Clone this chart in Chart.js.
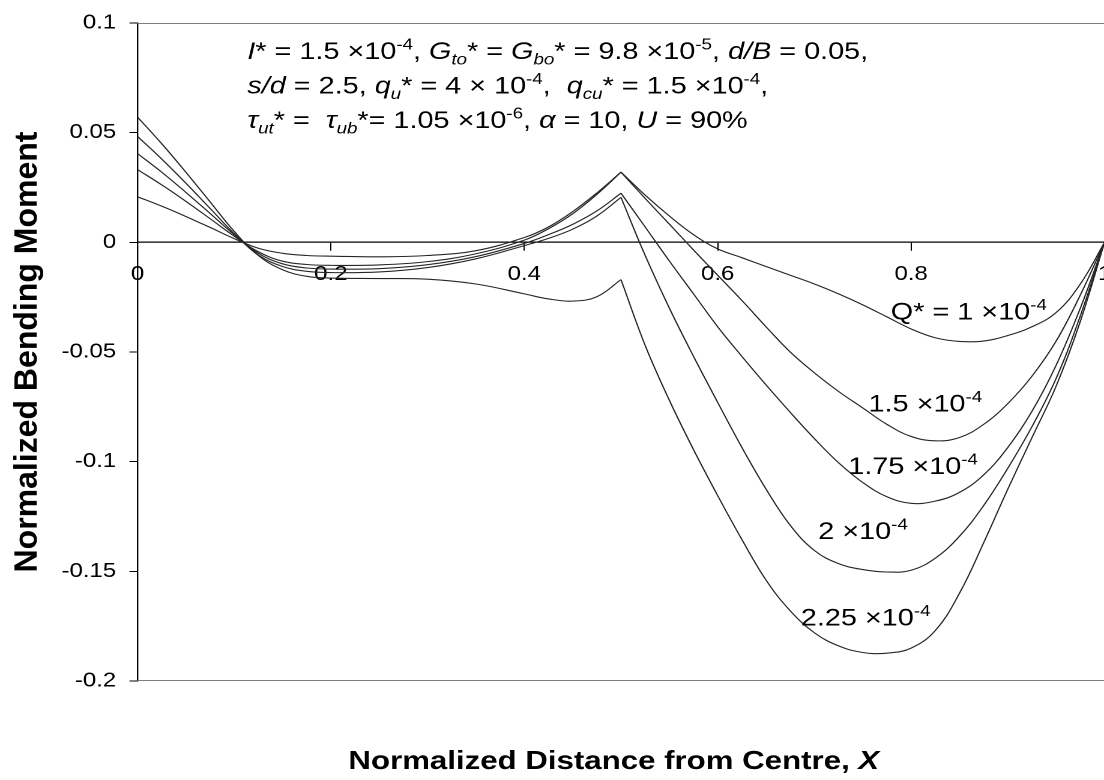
<!DOCTYPE html>
<html>
<head>
<meta charset="utf-8">
<script src="https://cdn.jsdelivr.net/npm/chart.js@4.4.1/dist/chart.umd.min.js"></script>
<style>
  html, body { margin: 0; padding: 0; background: #fff; overflow: hidden; }
  /* the source figure is stretched sideways, so the whole chart is drawn narrow and stretched */
  #wrap { position: absolute; left: 0; top: 0; width: 937.5px; height: 780px; transform: scaleX(1.2); transform-origin: 0 0; }
</style>
</head>
<body>
<div id="wrap"><canvas id="chart"></canvas></div>
<script>
var FONT = '"Liberation Sans", Arial, sans-serif';
var STRETCH = 1.2;

// normalized distance X
var xValues = [0, 0.025, 0.05, 0.075, 0.1, 0.125, 0.15, 0.175, 0.2, 0.25, 0.3, 0.35, 0.4, 0.425, 0.45, 0.475, 0.5,
               0.525, 0.55, 0.575, 0.6, 0.625, 0.65, 0.675, 0.7, 0.725, 0.75, 0.775, 0.8, 0.825, 0.85, 0.875, 0.9, 0.925, 0.95, 0.975, 1];
var peakX = 0.5; // cusp under the column load, curves are smoothed on each side of it

// normalized bending moment for each Q*
var momentQ100 = [0.0208, 0.0165, 0.0118, 0.0068, 0.0017, -0.0027, -0.0050, -0.0060, -0.0063, -0.0066, -0.0060, -0.0038, 0.0022, 0.0070, 0.0140, 0.0225, 0.0320,
                  0.0215, 0.0120, 0.0035, -0.0030, -0.0070, -0.0110, -0.0150, -0.0190, -0.0235, -0.0285, -0.0340, -0.0395, -0.0435, -0.0452, -0.0450, -0.0425, -0.0385, -0.0320, -0.0190, 0];
var momentQ150 = [0.0332, 0.0262, 0.0187, 0.0108, 0.0028, -0.0043, -0.0086, -0.0101, -0.0105, -0.0103, -0.0088, -0.0052, 0.0010, 0.0062, 0.0130, 0.0218, 0.0320,
                  0.0200, 0.0083, -0.0035, -0.0150, -0.0265, -0.0385, -0.0500, -0.0595, -0.0680, -0.0755, -0.0830, -0.0885, -0.0905, -0.0890, -0.0830, -0.0735, -0.0610, -0.0450, -0.0240, 0];
var momentQ175 = [0.0405, 0.0320, 0.0228, 0.0132, 0.0035, -0.0050, -0.0098, -0.0117, -0.0122, -0.0120, -0.0102, -0.0065, -0.0005, 0.0035, 0.0082, 0.0143, 0.0224,
                  0.0070, -0.0085, -0.0235, -0.0385, -0.0520, -0.0650, -0.0775, -0.0895, -0.1005, -0.1095, -0.1160, -0.1190, -0.1180, -0.1140, -0.1060, -0.0935, -0.0770, -0.0560, -0.0300, 0];
var momentQ200 = [0.0483, 0.0380, 0.0270, 0.0155, 0.0040, -0.0058, -0.0110, -0.0132, -0.0138, -0.0135, -0.0115, -0.0075, -0.0015, 0.0018, 0.0060, 0.0120, 0.0205,
                  -0.0060, -0.0300, -0.0520, -0.0730, -0.0935, -0.1125, -0.1290, -0.1405, -0.1465, -0.1492, -0.1503, -0.1495, -0.1440, -0.1340, -0.1200, -0.1030, -0.0840, -0.0620, -0.0335, 0];
var momentQ225 = [0.0571, 0.0450, 0.0320, 0.0185, 0.0050, -0.0060, -0.0125, -0.0155, -0.0163, -0.0165, -0.0168, -0.0190, -0.0235, -0.0258, -0.0268, -0.0248, -0.0170,
                  -0.0470, -0.0720, -0.0945, -0.1155, -0.1355, -0.1540, -0.1680, -0.1780, -0.1840, -0.1870, -0.1873, -0.1850, -0.1770, -0.1600, -0.1370, -0.1125, -0.0890, -0.0655, -0.0360, 0];

var seriesList = [momentQ100, momentQ150, momentQ175, momentQ200, momentQ225];

// curve labels (text, then where they sit in data units)
var labelText = ['Q* = 1 \u00d710', '1.5 \u00d710', '1.75 \u00d710', '2 \u00d710', '2.25 \u00d710'];
var labelX = [0.779, 0.756, 0.735, 0.704, 0.686];
var labelY = [-0.0314, -0.0732, -0.1018, -0.1314, -0.1709];

var xTicks = [0, 0.2, 0.4, 0.6, 0.8, 1];
var yTicks = [-0.2, -0.15, -0.1, -0.05, 0, 0.05, 0.1];

// parameter box, [text, flags]: i = italic, b = subscript, p = superscript, B = bold
var noteLines = [
  [['I', 'i'], ['* = 1.5 \u00d710'], ['-4', 'p'], [', '], ['G', 'i'], ['to', 'ib'], ['* = '], ['G', 'i'], ['bo', 'ib'],
   ['* = 9.8 \u00d710'], ['-5', 'p'], [', '], ['d/B', 'i'], [' = 0.05,']],
  [['s/d', 'i'], [' = 2.5, '], ['q', 'i'], ['u', 'ib'], ['* = 4 \u00d7 10'], ['-4', 'p'], [',  '], ['q', 'i'], ['cu', 'ib'],
   ['* = 1.5 \u00d710'], ['-4', 'p'], [',']],
  [['\u03c4', 'i'], ['ut', 'ib'], ['* =  '], ['\u03c4', 'i'], ['ub', 'ib'], ['*= 1.05 \u00d710'], ['-6', 'p'], [', '],
   ['\u03b1', 'i'], [' = 10, '], ['U', 'i'], [' = 90%']]
];

function pts(list, from, to) {
  var out = [];
  for (var i = from; i <= to; i++) out.push({x: xValues[i], y: list[i]});
  return out;
}

var cut = xValues.indexOf(peakX);
var datasets = [];
seriesList.forEach(function(list, k) {
  [[0, cut], [cut, xValues.length - 1]].forEach(function(r) {
    datasets.push({
      label: labelText[k],
      data: pts(list, r[0], r[1]),
      borderColor: '#262626',
      borderWidth: 1.1,
      pointRadius: 0,
      fill: false,
      tension: 0.4
    });
  });
});

function drawRich(ctx, x, y, parts, size, measureOnly) {
  var x0 = x;
  parts.forEach(function(p) {
    var f = p[1] || '';
    var small = f.indexOf('b') >= 0 || f.indexOf('p') >= 0;
    var s = small ? size * 0.65 : size;
    ctx.font = (f.indexOf('i') >= 0 ? 'italic ' : '') + (f.indexOf('B') >= 0 ? 'bold ' : '') + s + 'px ' + FONT;
    var dy = f.indexOf('p') >= 0 ? -size * 0.4 : (f.indexOf('b') >= 0 ? size * 0.22 : 0);
    if (!measureOnly) ctx.fillText(p[0], x, y + dy);
    x += ctx.measureText(p[0]).width;
  });
  return x - x0;
}

var textPlugin = {
  id: 'texts',
  beforeDatasetsDraw: function(chart) {
    var ctx = chart.ctx, a = chart.chartArea;
    ctx.save();
    ctx.strokeStyle = '#808080';
    ctx.lineWidth = 1;
    ctx.beginPath();
    ctx.moveTo(a.left, a.top + 0.5); ctx.lineTo(a.right, a.top + 0.5);
    ctx.moveTo(a.left, a.bottom - 0.5); ctx.lineTo(a.right, a.bottom - 0.5);
    ctx.stroke();
    ctx.restore();
  },
  afterDraw: function(chart) {
    var ctx = chart.ctx, a = chart.chartArea;
    var xs = chart.scales.x, ys = chart.scales.y;
    ctx.save();
    ctx.fillStyle = '#000';
    ctx.textBaseline = 'alphabetic';
    ctx.textAlign = 'left';

    noteLines.forEach(function(line, i) {
      drawRich(ctx, 206, 59 + i * 34.5, line, 24);
    });

    labelText.forEach(function(t, i) {
      drawRich(ctx, xs.getPixelForValue(labelX[i]), ys.getPixelForValue(labelY[i]) + 8.5, [[t], ['-4', 'p']], 24);
    });

    // x title
    var xt = [['Normalized Distance from Centre, ', 'B'], ['X', 'Bi']];
    var w = drawRich(ctx, 0, 0, xt, 26, true);
    drawRich(ctx, (a.left + a.right) / 2 - w / 2 - 6, 769, xt, 26);

    // y title, drawn without the sideways stretch
    ctx.translate(30.4, (a.top + a.bottom) / 2);
    ctx.scale(1 / STRETCH, 1);
    ctx.rotate(-Math.PI / 2);
    ctx.textAlign = 'center';
    ctx.font = 'bold 32px ' + FONT;
    ctx.fillText('Normalized Bending Moment', 0, 0);
    ctx.restore();
  }
};

new Chart(document.getElementById('chart'), {
  type: 'line',
  data: {datasets: datasets},
  plugins: [textPlugin],
  options: {
    responsive: true,
    maintainAspectRatio: false,
    animation: false,
    devicePixelRatio: 2,
    layout: {padding: {left: 0, right: 10, top: 21, bottom: 99}},
    plugins: {legend: {display: false}, tooltip: {enabled: false}},
    scales: {
      x: {
        type: 'linear',
        min: 0, max: 1,
        position: {y: 0},
        afterBuildTicks: function(s) { s.ticks = xTicks.map(function(v) { return {value: v}; }); },
        grid: {drawOnChartArea: false, drawTicks: true, tickLength: 8, color: '#000'},
        border: {color: '#000', width: 1.2},
        ticks: {padding: 12, color: '#000', maxRotation: 0, autoSkip: false, font: {family: FONT, size: 20},
                callback: function(v) { return String(Number(v.toFixed(2))); }}
      },
      y: {
        type: 'linear',
        min: -0.2, max: 0.1,
        afterBuildTicks: function(s) { s.ticks = yTicks.map(function(v) { return {value: v}; }); },
        afterFit: function(s) { s.width = 114.5; },
        grid: {drawOnChartArea: false, drawTicks: true, tickLength: 6.7, color: '#000'},
        border: {color: '#000', width: 1.2},
        ticks: {padding: 11, color: '#000', font: {family: FONT, size: 20},
                callback: function(v) { return String(Number(v.toFixed(2))); }}
      }
    }
  }
});
</script>
</body>
</html>
